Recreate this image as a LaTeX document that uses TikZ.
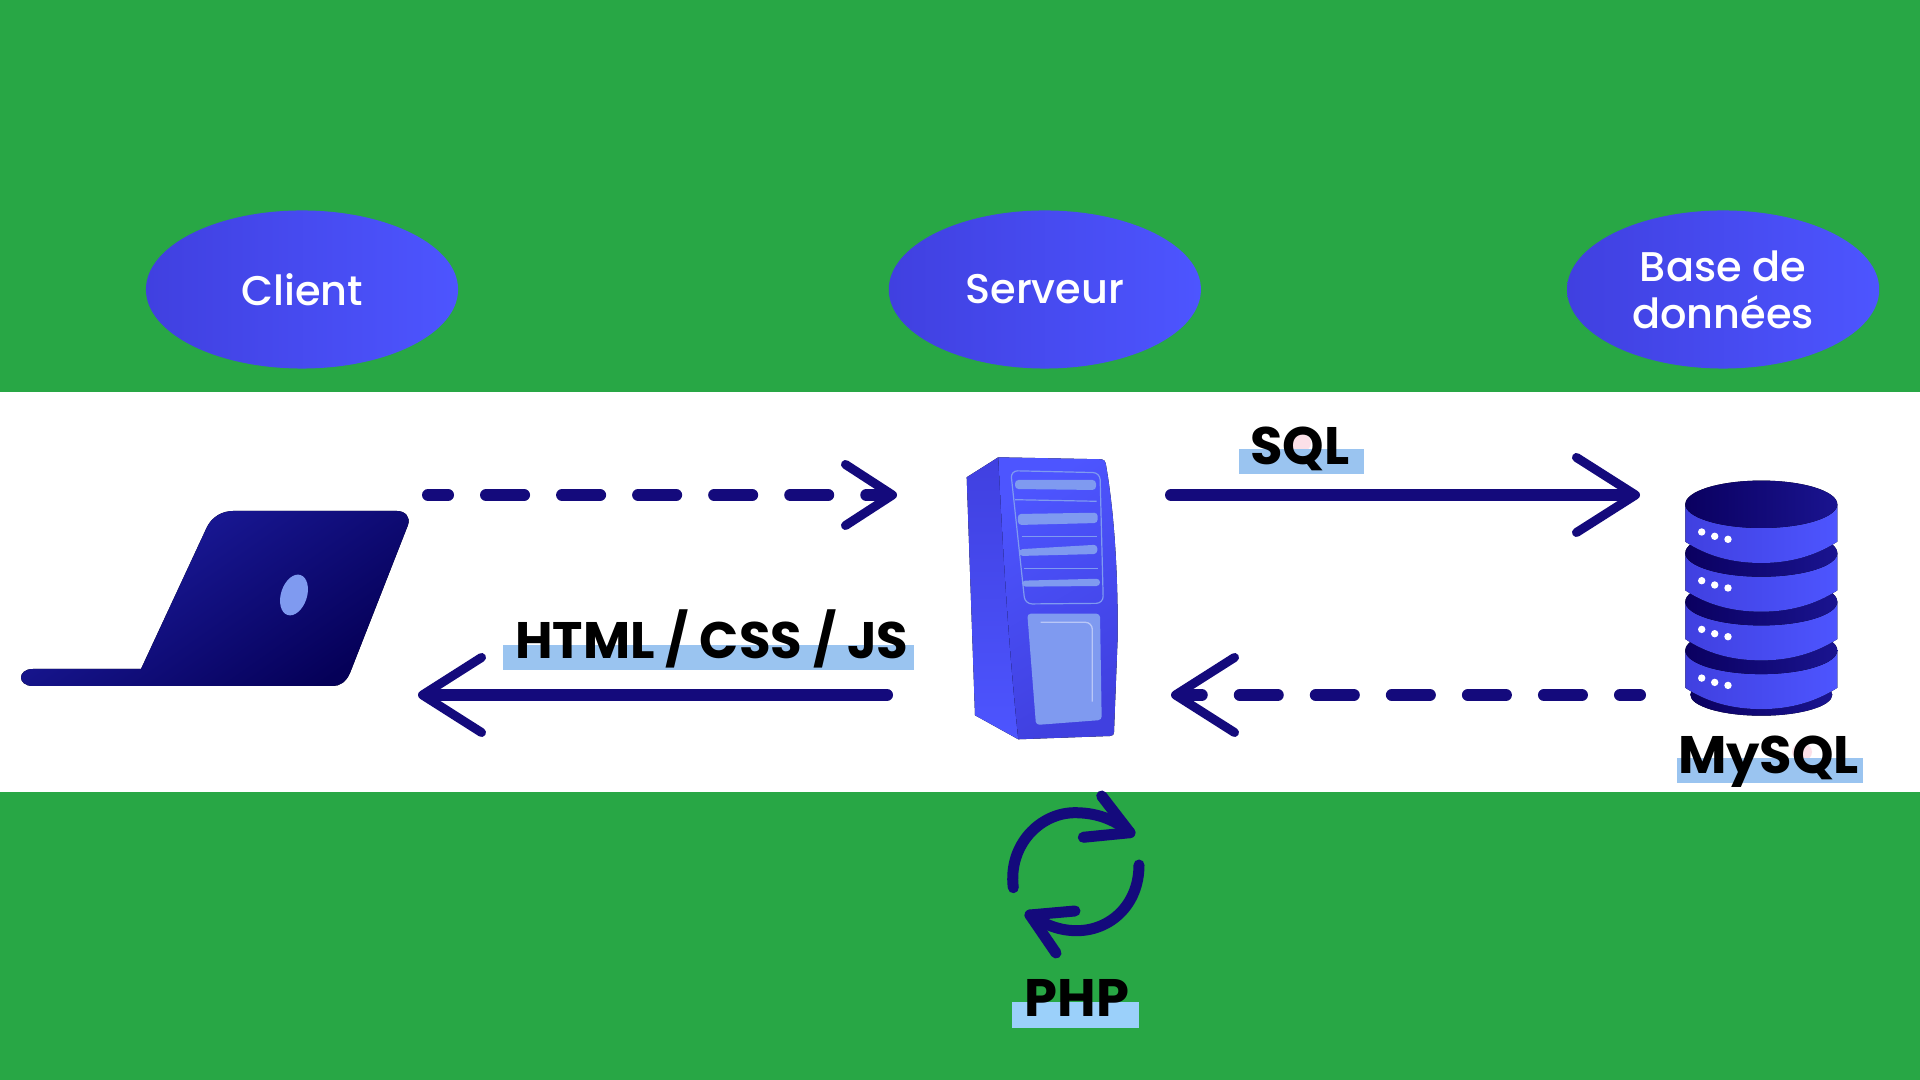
\documentclass[tikz,border=0pt]{standalone}
\usepackage{fontspec}
\setmainfont{Poppins}
\newfontfamily\bubblefont{Poppins Medium}
\usepackage{tikz}
\usetikzlibrary{arrows.meta,positioning,shapes.geometric}
\definecolor{bandgreen}{HTML}{28A745}
\definecolor{bluelow}{HTML}{4040E0}
\definecolor{bluehigh}{HTML}{4D55FF}
\definecolor{navylow}{HTML}{0A0060}
\definecolor{navyhigh}{HTML}{1A1490}
\definecolor{lidhigh}{HTML}{1E1EA4}
\definecolor{lidlow}{HTML}{050058}
\definecolor{arrownavy}{HTML}{140A7C}
\definecolor{panelblue}{HTML}{7F9AF0}
\definecolor{markblue}{HTML}{9AC4F0}
\definecolor{markphp}{HTML}{9BD0FA}
\definecolor{markpink}{HTML}{FCE0E8}

\begin{document}
\begin{tikzpicture}[
    x=0.01cm, y=-0.01cm,
    node distance=4.29cm and 4.29cm,
    bubble/.style={ellipse, minimum width=3.12cm, minimum height=1.58cm, inner sep=0pt,
                   left color=bluelow, right color=bluehigh, align=center, text=white,
                   font=\fontsize{11.8}{13.4}\selectfont\bubblefont},
    tag/.style={anchor=base, inner sep=0pt, font=\fontsize{15}{16}\selectfont\bfseries},
    strip/.style={rectangle, inner sep=0pt, minimum height=0.25cm, fill=markblue},
    flow/.style={line width=0.12cm, line cap=round, arrownavy},
    bigtip/.style={-{Straight Barb[length=0.59cm, width=0.75cm, line width=0.09cm, round]}},
    smalltip/.style={-{Straight Barb[length=0.47cm, width=0.61cm, line width=0.09cm, round]}},
    gaps/.style={dash pattern=on 0.38cm off 0.38cm, dash phase=0.18cm},
    loopline/.style={line width=0.11cm, line cap=round, line join=round, arrownavy},
    part/.style={panelblue, rounded corners=1pt}
]
\useasboundingbox (0,0) rectangle (1920,1080);

% --- Bands ---
\fill[bandgreen] (0,0) rectangle (1920,1080);
\fill[white] (0,392) rectangle (1920,792);

% --- Top labels ---
\node[bubble] (client) at (302,289.5) {Client};
\node[bubble, right=of client] (serveur) {Serveur};
\node[bubble, right=3.645cm of serveur] (base) {Base de\\données};

% --- Laptop ---
\fill[top color=lidhigh, bottom color=lidlow, shading angle=35]
    (141,669) -- (207,527) .. controls (212,517) and (222,511) .. (233,511) -- (397,511)
    .. controls (405,511) and (411,517) .. (408,525) -- (350,673)
    .. controls (346,682) and (340,686) .. (333,686) -- (33,686)
    .. controls (17,686) and (17,669) .. (33,669) -- cycle;
\fill[panelblue, rotate around={-18:(294,595)}] (294,595) ellipse (13 and 21);

% --- Server ---
\fill[top color=bluelow, bottom color=bluehigh]
    (966.7,477.3) -- (998.3,457.3) -- (1018.3,739.3) -- (975,715.3) -- cycle;
\fill[top color=bluehigh, bottom color=bluelow, shading angle=30]
    (998.3,457.3) -- (1101.7,459.3) .. controls (1104,459.5) and (1105,461) .. (1105.7,463.3)
    .. controls (1114,510) and (1118,570) .. (1117.7,636.7) -- (1114,732)
    .. controls (1114,735) and (1113,735.5) .. (1110,736) -- (1018.3,739.3)
    .. controls (1008,640) and (1003,550) .. (998.3,457.3) -- cycle;
\draw[panelblue, line width=0.012cm, rounded corners=2pt]
    (1010.7,470.7) -- (1100,472.7) -- (1103.3,603.3) -- (1025,604) -- cycle;
\fill[part] (1015,480) -- (1096,480) -- (1096,490) -- (1015,489) -- cycle;
\fill[part] (1017.7,514) -- (1097.7,512.7) -- (1097.7,523) -- (1018,525) -- cycle;
\fill[part] (1019,549.3) -- (1097.3,544.7) -- (1097.3,554) -- (1019.3,556) -- cycle;
\fill[part] (1021.7,580.7) -- (1100,578.7) -- (1100,586) -- (1022.3,586.7) -- cycle;
\draw[panelblue, line width=0.012cm] (1015,499.7) -- (1096.7,501.3);
\draw[panelblue, line width=0.012cm] (1021.7,536.7) -- (1096.7,536.7);
\draw[panelblue, line width=0.012cm] (1023.7,568.7) -- (1097.7,568.7);
\fill[part] (1027.3,613.7) -- (1100,613.7) -- (1101.7,720) -- (1036,725) -- cycle;
\draw[panelblue!55!white, line width=0.013cm, rounded corners=2pt]
    (1040.7,622.3) -- (1092.3,622.3) -- (1092.3,701.7);

% --- Database ---
\fill[left color=navylow, right color=navyhigh] (1761.3,694.7) ellipse (71 and 21);
\foreach \k in {3,2,1,0} {
    \fill[left color=bluelow, right color=bluehigh]
        (1685.3,504.3+48.7*\k) -- (1837.3,504.3+48.7*\k) -- (1837.3,541.7+48.7*\k)
        .. controls (1815,556+48.7*\k) and (1790,563+48.7*\k) .. (1761.3,563+48.7*\k)
        .. controls (1732,563+48.7*\k) and (1707,556+48.7*\k) .. (1685.3,541.7+48.7*\k) -- cycle;
    \fill[left color=navylow, right color=navyhigh] (1761.3,504.3+48.7*\k) ellipse (76 and 23.7);
    \fill[white] (1701.7,532+48.7*\k) circle (3.7);
    \fill[white] (1714.7,536.3+48.7*\k) circle (3.7);
    \fill[white] (1728,539.3+48.7*\k) circle (3.7);
}

% --- Text strips ---
\fill[markpink] (1301,443) ellipse (10 and 9);
\fill[markpink] (1802,752) ellipse (10 and 9);
\node[strip, minimum width=4.11cm] (webstrip) at (708.5,657.5) {};
\node[strip, minimum width=1.25cm] (sqlstrip) at (1301.5,462) {};
\node[strip, minimum width=1.86cm] (mysqlstrip) at (1770,770.5) {};
\node[strip, minimum width=1.27cm, fill=markphp] (phpstrip) at (1075.5,1015) {};

\node[tag, font=\fontsize{14.6}{16}\selectfont\bfseries] (web) at (712,658.5) {HTML / CSS / JS};
\node[tag] (sql) at (1300,464.5) {SQL};
\node[tag] (mysql) at (1768.5,773.5) {MySQL};
\node[tag] (php) at (1077,1016.5) {PHP};

% --- Connectors ---
\coordinate (laptopout) at (428,495);
\coordinate (serverin) at (897,495);
\coordinate (serverback) at (887,695);
\coordinate (laptopin) at (418,695);
\coordinate (serverout) at (1171,495);
\coordinate (dbin) at (1640,495);
\coordinate (dbout) at (1640,695);
\coordinate (dbback) at (1171,695);

\draw[flow, smalltip, gaps] (laptopout) -- (serverin);
\draw[flow, bigtip] (serverback) -- (laptopin);
\draw[flow, bigtip] (serverout) -- (dbin);
\draw[flow, bigtip, gaps] (dbout) -- (dbback);

% --- PHP loop ---
\coordinate (loopa) at (1013.3,887.7);
\coordinate (loopb) at (1130,832.7);
\coordinate (loopc) at (1139,865);
\coordinate (loopd) at (1030,915);
\draw[loopline] (loopa) .. controls (1008,845) and (1040,812.7) .. (1075,812.7)
    .. controls (1100,812.7) and (1118,822) .. (loopb);
\draw[loopline] (loopc) .. controls (1139,905) and (1110,930.7) .. (1076.7,930.7)
    .. controls (1060,930.7) and (1045,925) .. (loopd);
\draw[loopline] (1101.7,796) -- (loopb) -- (1083.3,837.3);
\draw[loopline] (1075,911) -- (loopd) -- (1056,953);

\end{tikzpicture}
\end{document}
